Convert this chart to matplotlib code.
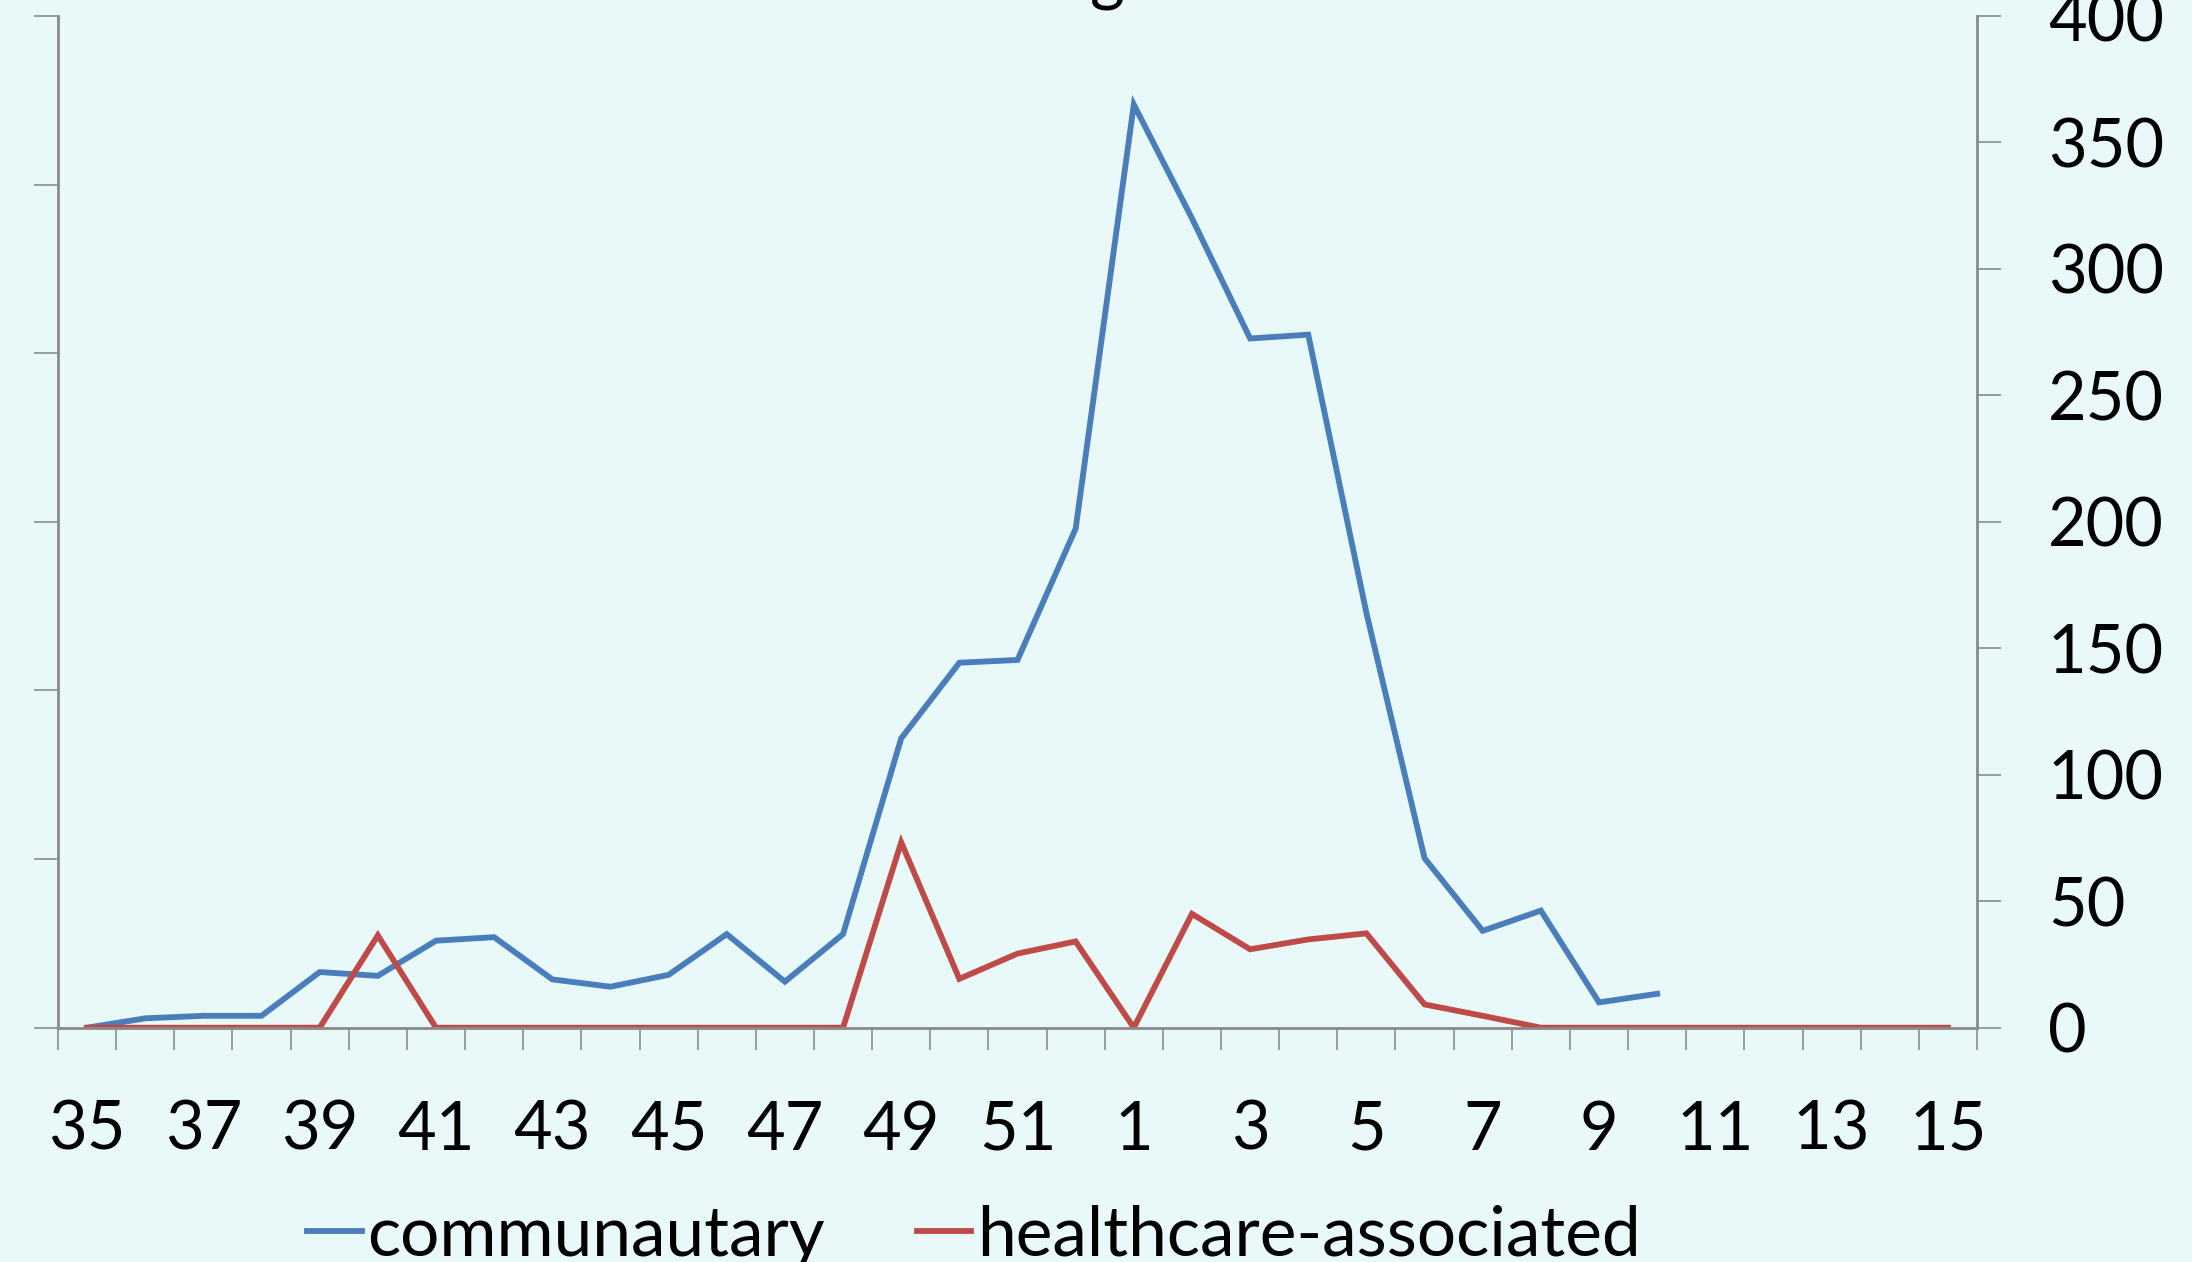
import numpy as np
import matplotlib
matplotlib.use('Agg')
import matplotlib.pyplot as plt

# weeks: 35..52 then 1..15
weeks = [str(w) for w in range(35, 53)] + [str(w) for w in range(1, 16)]

communautary = [0, 3.7, 4.7, 4.7, 22, 20.5, 34.4, 35.8, 19.1, 16.2, 20.9, 37, 18.2, 37,
                114.4, 144.3, 145.4, 197.3,
                365, 320, 272.5, 274, 164, 67, 38.3, 46.3, 10, 13.4,
                np.nan, np.nan, np.nan, np.nan, np.nan]
healthcare = [0, 0, 0, 0, 0, 36.5, 0, 0, 0, 0, 0, 0, 0, 0,
              73.3, 19.3, 29.3, 34.1,
              0, 45, 31, 34.9, 37.3, 9.2, 4.7, 0, 0, 0,
              0, 0, 0, 0, 0]

series_names = ['communautary', 'healthcare-associated']
series_colors = ['#4A7EBB', '#BE4B48']
right_ticks = [0, 50, 100, 150, 200, 250, 300, 350, 400]

bg = '#E9F8F8'
axis_grey = '#8C8C8C'
plt.rcParams['font.family'] = ['Lato', 'DejaVu Sans']

fig = plt.figure(figsize=(21.92, 12.62), dpi=100, facecolor=bg)
ax = fig.add_axes([58 / 2192, 1 - 1027.7 / 1262, (1977 - 58) / 2192, (1027.7 - 16) / 1262])
ax.set_facecolor(bg)
ax2 = ax.twinx()

x = np.arange(len(weeks))
lines = []
for vals, name, col in zip([communautary, healthcare], series_names, series_colors):
    ln, = ax2.plot(x, vals, color=col, lw=4.2, label=name, solid_joinstyle='miter')
    lines.append(ln)

ax.set_xlim(-0.5, len(weeks) - 0.5)
ax2.set_ylim(0, 400)
ax2.set_yticks(right_ticks)
ax.set_ylim(0, 6)
ax.set_yticks(range(7))
ax.set_yticklabels([])

# category labels every other week, tick marks at category boundaries
ax.set_xticks(x[::2])
ax.set_xticklabels(weeks[::2], fontsize=48)
ax.set_xticks(np.arange(-0.5, len(weeks)), minor=True)
ax.tick_params(axis='x', which='major', length=0, pad=52)
ax.tick_params(axis='x', which='minor', length=16, width=1.2, color=axis_grey, direction='out')
ax.tick_params(axis='y', length=17, width=1.2, color=axis_grey, direction='out')
ax2.tick_params(axis='y', length=17, width=1.2, color=axis_grey, direction='out',
                labelsize=48, pad=34)

for a in (ax, ax2):
    a.spines['top'].set_visible(False)
    for s in ('left', 'right', 'bottom'):
        a.spines[s].set_color(axis_grey)
        a.spines[s].set_linewidth(1.8)

# title cut off at top of the image
fig.text(1107 / 2192, 1.001, 'g', fontsize=48, ha='center', va='baseline')

fig.legend(lines, series_names, loc='center', bbox_to_anchor=(974 / 2192, 1 - 1236 / 1262),
           ncol=2, frameon=False, fontsize=50, handlelength=0.78, handletextpad=0.08,
           columnspacing=1.33, borderpad=0, borderaxespad=0)

fig.savefig('out.png', dpi=100, facecolor=bg)
